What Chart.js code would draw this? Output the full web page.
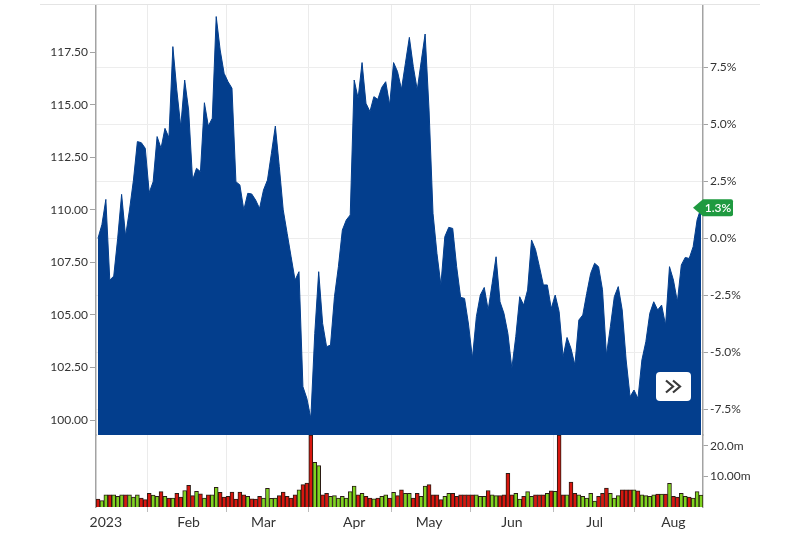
<!DOCTYPE html>
<html>
<head>
<meta charset="utf-8">
<script src="https://cdn.jsdelivr.net/npm/chart.js@4.4.0/dist/chart.umd.min.js"></script>
<style>
  html, body { margin: 0; padding: 0; background: #fff; }
  #wrap { width: 800px; height: 533px; }
</style>
</head>
<body>
<div id="wrap"><canvas id="chart" width="800" height="533"></canvas></div>
<script>
// ---- data: one entry per trading day, late Dec 2022 .. mid Aug 2023 ----
const closes = [
  108.65, 109.30, 110.50, 106.66, 106.85, 108.65, 110.74, 108.76, 110.00, 111.42,
  113.25, 113.20, 112.93, 110.82, 111.34, 113.49, 112.93, 113.88, 113.44, 117.77,
  115.71, 113.96, 116.18, 114.75, 111.42, 111.98, 111.82, 115.10, 113.99, 114.36,
  119.20, 117.61, 116.50, 116.10, 115.79, 111.34, 111.19, 110.00, 110.79, 110.76,
  110.47, 110.07, 110.95, 111.42, 112.69, 113.99, 112.06, 110.00, 108.88, 107.77,
  106.66, 107.06, 101.59, 101.03, 100.08, 104.12, 107.06, 104.60, 103.49, 103.57,
  105.87, 107.30, 109.04, 109.52, 109.76, 116.18, 115.31, 117.01, 115.07, 114.68,
  115.39, 115.26, 115.83, 116.10, 114.99, 117.01, 116.58, 115.74, 116.98, 118.21,
  116.82, 115.71, 117.06, 118.37, 114.75, 109.84, 107.93, 106.43, 108.73, 109.17,
  109.12, 107.30, 105.84, 105.79, 104.57, 102.94, 104.92, 105.95, 106.31, 105.24,
  106.50, 107.77, 105.63, 105.08, 104.12, 102.46, 103.97, 105.87, 105.47, 106.19,
  108.57, 108.12, 107.30, 106.43, 106.43, 105.31, 105.95, 105.16, 103.01, 103.93,
  103.41, 102.62, 104.76, 105.00, 106.03, 106.98, 107.46, 107.30, 106.20, 103.09,
  104.44, 105.87, 106.35, 105.24, 102.86, 101.11, 101.43, 101.03, 102.86, 103.73,
  105.08, 105.63, 105.24, 105.47, 104.52, 107.30, 106.66, 105.63, 107.38, 107.74,
  107.69, 108.25, 109.52, 110.10
];

// volume in millions
const volumes = [
  2.6, 2.1, 4.0, 4.0, 4.0, 3.5, 4.0, 4.0, 4.0, 3.2,
  4.0, 2.9, 2.4, 4.5, 3.9, 3.5, 5.0, 3.5, 2.9, 2.9,
  4.5, 3.2, 5.4, 7.1, 3.7, 5.1, 4.3, 2.9, 4.0, 4.0,
  6.4, 4.8, 3.2, 3.5, 4.9, 2.6, 4.9, 4.0, 3.5, 2.7,
  2.6, 3.5, 2.9, 6.1, 2.8, 2.9, 3.7, 4.9, 3.5, 2.9,
  4.0, 5.6, 7.3, 7.8, 23.5, 14.6, 13.5, 4.0, 4.5, 3.5,
  3.7, 2.9, 3.5, 2.9, 5.0, 6.8, 4.0, 4.5, 3.5, 2.9,
  2.7, 2.9, 3.5, 4.0, 2.9, 4.8, 3.7, 5.6, 4.5, 4.5,
  2.9, 4.5, 3.5, 6.8, 7.3, 4.0, 4.0, 2.4, 3.5, 4.5,
  4.5, 3.5, 4.0, 4.0, 4.0, 4.0, 4.0, 3.5, 3.5, 5.4,
  4.0, 3.7, 3.7, 4.0, 11.0, 4.0, 4.5, 2.6, 3.5, 5.0,
  3.5, 4.0, 4.0, 4.0, 4.5, 5.3, 5.1, 23.5, 4.0, 4.0,
  8.1, 4.5, 4.0, 3.5, 2.9, 4.5, 1.9, 3.5, 4.5, 6.2,
  4.5, 2.9, 3.7, 5.6, 5.6, 5.6, 5.6, 5.3, 4.0, 3.7,
  3.5, 4.0, 4.2, 4.2, 4.2, 7.7, 3.5, 3.2, 4.5, 3.5,
  3.2, 2.9, 5.0, 3.9
];

// first trading day of each month (index into the arrays above)
const monthTickIdx = [2, 23, 42, 65, 84, 105, 126, 146];
const monthLabels = ['2023', 'Feb', 'Mar', 'Apr', 'May', 'Jun', 'Jul', 'Aug'];

const priceTicks = [100, 102.5, 105, 107.5, 110, 112.5, 115, 117.5];
const pctTicks = [-7.5, -5, -2.5, 0, 2.5, 5, 7.5];
const volTicks = [10, 20];
const volTickLabels = ['10.00m', '20.0m'];

// ---- styling ----
const FONT = 'Lato, "Open Sans", sans-serif';
const TXT = '#333';
const AXIS = '#a3a3a3';
const BLUE = '#033e8d';
const UP = '#7fd321';
const DOWN = '#d8170f';

const PRICE_MIN = 99.29, PRICE_MAX = 119.75, VOL_MAX = 23.5;
const base = closes[0];
const pctOf = p => (p / base - 1) * 100;

function fixWidth(w) {
  return s => { s.width = w; s.paddingTop = 0; s.paddingBottom = 0; };
}
function setTicks(list) {
  return s => { s.ticks = list.map(v => ({ value: v })); };
}

const extras = {
  id: 'extras',
  afterDraw(chart) {
    const ctx = chart.ctx;
    const ys = chart.scales.y;
    const right = chart.chartArea.right;
    ctx.save();

    // faint top rule
    ctx.strokeStyle = '#e4e4e4';
    ctx.lineWidth = 1;
    ctx.beginPath();
    ctx.moveTo(40, 4.5);
    ctx.lineTo(760, 4.5);
    ctx.stroke();

    // last change badge
    const last = closes[closes.length - 1];
    const by = ys.getPixelForValue(last);
    ctx.fillStyle = '#1f9a40';
    ctx.beginPath();
    ctx.moveTo(right - 10, by);
    ctx.lineTo(right, by - 8.5);
    ctx.lineTo(right + 28, by - 8.5);
    ctx.quadraticCurveTo(right + 30, by - 8.5, right + 30, by - 6.5);
    ctx.lineTo(right + 30, by + 6.5);
    ctx.quadraticCurveTo(right + 30, by + 8.5, right + 28, by + 8.5);
    ctx.lineTo(right, by + 8.5);
    ctx.closePath();
    ctx.fill();
    ctx.fillStyle = '#fff';
    ctx.font = '600 12px ' + FONT;
    ctx.textAlign = 'center';
    ctx.textBaseline = 'middle';
    ctx.fillText(pctOf(last).toFixed(1) + '%', right + 15, by + 0.5);

    // scroll-forward button
    const bx = right - 47, bt = ys.bottom - 63, bw = 35, bh = 29;
    ctx.fillStyle = '#fff';
    ctx.beginPath();
    ctx.roundRect(bx, bt, bw, bh, 4);
    ctx.fill();
    ctx.strokeStyle = '#3a3a3a';
    ctx.lineWidth = 2.2;
    [10, 17].forEach(dx => {
      ctx.beginPath();
      ctx.moveTo(bx + dx, bt + 8.5);
      ctx.lineTo(bx + dx + 7, bt + 14.5);
      ctx.lineTo(bx + dx, bt + 20.5);
      ctx.stroke();
    });
    ctx.restore();
  }
};

new Chart(document.getElementById('chart'), {
  type: 'line',
  data: {
    datasets: [
      {
        type: 'line',
        xAxisID: 'x',
        yAxisID: 'y',
        data: closes.map((c, i) => ({ x: i, y: c })),
        borderColor: BLUE,
        backgroundColor: BLUE,
        borderWidth: 1,
        fill: 'start',
        pointRadius: 0,
        tension: 0
      },
      {
        type: 'bar',
        xAxisID: 'x',
        yAxisID: 'vol',
        data: volumes.map((v, i) => ({ x: i, y: v })),
        backgroundColor: volumes.map((v, i) => (i > 0 && closes[i] >= closes[i - 1]) ? UP : DOWN),
        borderColor: '#2a1c14',
        borderWidth: 1,
        barPercentage: 1,
        categoryPercentage: 1
      }
    ]
  },
  plugins: [extras],
  options: {
    responsive: false,
    devicePixelRatio: 1,
    animation: false,
    layout: { padding: { top: 5, left: 0, right: 0, bottom: 0 } },
    plugins: { legend: { display: false }, tooltip: { enabled: false } },
    scales: {
      x: {
        type: 'linear',
        offset: false,
        min: -0.5,
        max: closes.length - 0.5,
        afterBuildTicks: setTicks(monthTickIdx),
        afterFit: s => { s.height = 26; s.paddingLeft = 0; s.paddingRight = 0; },
        ticks: {
          autoSkip: false, maxRotation: 0, padding: 2, color: TXT,
          font: { family: FONT, size: 14 },
          callback: (v, i) => monthLabels[i]
        },
        grid: {
          color: c => c.index === 0 ? '#cdcdcd' : '#ebebeb',
          lineWidth: c => c.index === 0 ? 1.5 : 1,
          tickLength: 5,
          tickColor: '#bdbdbd'
        },
        border: { display: false }
      },
      y: {
        type: 'linear', position: 'left', stack: 'left', stackWeight: 430, weight: 2,
        min: PRICE_MIN, max: PRICE_MAX,
        afterBuildTicks: setTicks(priceTicks),
        afterFit: fixWidth(96),
        ticks: { color: TXT, padding: 2, font: { family: FONT, size: 12 }, callback: v => v.toFixed(2) },
        grid: { drawOnChartArea: false, tickLength: 6, tickColor: AXIS },
        border: { color: AXIS, width: 1.5 }
      },
      volL: {
        type: 'linear', position: 'left', stack: 'left', stackWeight: 72, weight: 1,
        min: 0, max: VOL_MAX,
        afterFit: fixWidth(96),
        ticks: { display: false },
        grid: { display: false },
        border: { color: AXIS, width: 1.5 }
      },
      pct: {
        type: 'linear', position: 'right', stack: 'right', stackWeight: 430, weight: 1,
        min: pctOf(PRICE_MIN), max: pctOf(PRICE_MAX),
        afterBuildTicks: setTicks(pctTicks),
        afterFit: fixWidth(97),
        ticks: { color: TXT, padding: 2, font: { family: FONT, size: 12 }, callback: v => v.toFixed(1) + '%' },
        grid: { color: '#ededed', tickLength: 5, tickColor: AXIS },
        border: { color: AXIS, width: 1.5 }
      },
      vol: {
        type: 'linear', position: 'right', stack: 'right', stackWeight: 72, weight: 2,
        min: 0, max: VOL_MAX,
        afterBuildTicks: setTicks(volTicks),
        afterFit: fixWidth(97),
        ticks: { color: TXT, padding: 2, font: { family: FONT, size: 12 }, callback: (v, i) => volTickLabels[i] },
        grid: { drawOnChartArea: false, tickLength: 5, tickColor: AXIS },
        border: { color: AXIS, width: 1.5 }
      }
    }
  }
});
</script>
</body>
</html>
